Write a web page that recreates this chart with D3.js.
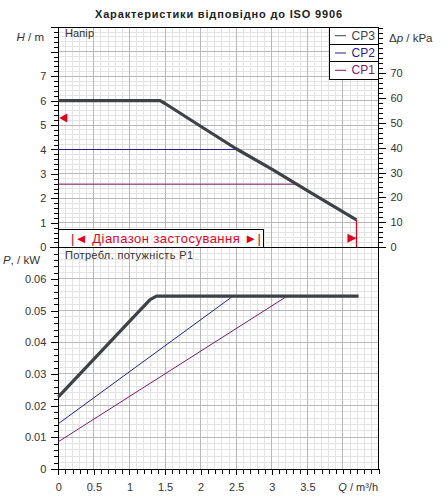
<!DOCTYPE html>
<html><head><meta charset="utf-8">
<script src="https://cdn.jsdelivr.net/npm/d3@7"></script>
<style>
body{margin:0;background:#fff;}
svg{display:block;font-family:"Liberation Sans",Arial,sans-serif;}
</style></head>
<body><svg id="c" width="448" height="500"></svg>
<script>
// ---- data ----
const titleText = "Характеристики відповідно до ISO 9906";
const qTicks = [0, 0.5, 1, 1.5, 2, 2.5, 3, 3.5];
const hTicks = [0, 1, 2, 3, 4, 5, 6, 7];
const kpaTicks = [0, 10, 20, 30, 40, 50, 60, 70];
const pTicks = [0, 0.01, 0.02, 0.03, 0.04, 0.05, 0.06];
const seriesNames = ["CP3", "CP2", "CP1"];
const headQ3 = [0, 1.43, 1.5, 2.0, 2.5, 3.0, 3.5, 4.19];
const headH3 = [6.0, 6.0, 5.88, 4.95, 4.03, 3.2, 2.32, 1.12];
const headQ2 = [0, 2.5];
const headH2 = [4.0, 4.0];
const headQ1 = [0, 3.34];
const headH1 = [2.58, 2.58];
const powQ3 = [0, 0.5, 1.0, 1.29, 1.38, 4.22];
const powP3 = [0.0228, 0.0347, 0.0466, 0.0535, 0.0546, 0.0546];
const powQ2 = [0, 2.45];
const powP2 = [0.0143, 0.0545];
const powQ1 = [0, 3.21];
const powP1 = [0.0086, 0.0545];
const rangeEndQ = 4.19, rangeEndH = 1.12;
const minMarkH = 5.29;

// ---- scales ----
const L = 58.3, R = 378.5, T = 27.2, M = 247.3, B = 469;
const x = d3.scaleLinear([0, 4.5], [L, R]);
const yH = d3.scaleLinear([0, 9], [M, T]);
const yK = d3.scaleLinear([0, 9 * 9.81], [M, T]);
const yP = d3.scaleLinear([0, 0.07], [B, M]);

const cols = {CP3: "#3e4246", CP2: "#2b1b8c", CP1: "#7d1a6e"};
const svg = d3.select("#c");
const font = '"Liberation Sans",Arial,sans-serif';
const txtCol = "#333";

// ---- grids ----
const g = svg.append("g");
function vgrid(step, col, y0, y1) {
  d3.range(0, 4.5001, step).forEach(v => {
    g.append("line").attr("x1", x(v)).attr("x2", x(v)).attr("y1", y0).attr("y2", y1)
      .attr("stroke", col).attr("stroke-width", 1).attr("shape-rendering", "crispEdges");
  });
}
function hgrid(scale, max, step, col) {
  d3.range(0, max + 1e-9, step).forEach(v => {
    g.append("line").attr("x1", L).attr("x2", R).attr("y1", scale(v)).attr("y2", scale(v))
      .attr("stroke", col).attr("stroke-width", 1).attr("shape-rendering", "crispEdges");
  });
}
vgrid(0.1, "#e3e3e3", T, B);
hgrid(yH, 9, 0.2, "#e3e3e3");
hgrid(yP, 0.07, 0.002, "#e3e3e3");
vgrid(0.5, "#b8b8b8", T, B);
hgrid(yH, 9, 1, "#b8b8b8");
hgrid(yP, 0.07, 0.01, "#b8b8b8");

// ---- axes ----
function styleAxis(sel) {
  sel.select(".domain").remove();
  sel.selectAll("line").attr("stroke", "#000").attr("shape-rendering", "crispEdges");
  sel.selectAll("text").attr("fill", txtCol).style("font-size", "11px").style("font-family", font);
}
// upper left
svg.append("g").attr("transform", `translate(${L},0)`)
  .call(d3.axisLeft(yH).tickValues(d3.range(0, 9.001, 0.2)).tickSize(4).tickFormat("")).call(styleAxis);
svg.append("g").attr("transform", `translate(${L},0)`)
  .call(d3.axisLeft(yH).tickValues(d3.range(0, 9.001, 1)).tickSize(7).tickPadding(5)
    .tickFormat(d => hTicks.includes(d) ? d : "")).call(styleAxis);
// upper right
svg.append("g").attr("transform", `translate(${R},0)`)
  .call(d3.axisRight(yK).tickValues(d3.range(0, 88.3, 2)).tickSize(4).tickFormat("")).call(styleAxis);
svg.append("g").attr("transform", `translate(${R},0)`)
  .call(d3.axisRight(yK).tickValues(kpaTicks).tickSize(7).tickPadding(5)).call(styleAxis);
// lower left
svg.append("g").attr("transform", `translate(${L},0)`)
  .call(d3.axisLeft(yP).tickValues(d3.range(0, 0.0701, 0.002)).tickSize(4).tickFormat("")).call(styleAxis);
svg.append("g").attr("transform", `translate(${L},0)`)
  .call(d3.axisLeft(yP).tickValues(pTicks).tickSize(7).tickPadding(5)
    .tickFormat(d => d === 0 ? "0" : d3.format(".2f")(d))).call(styleAxis);
// bottom
svg.append("g").attr("transform", `translate(0,${B})`)
  .call(d3.axisBottom(x).tickValues(d3.range(0, 4.5001, 0.1)).tickSize(5).tickFormat("")).call(styleAxis);
svg.append("g").attr("transform", `translate(0,${B})`)
  .call(d3.axisBottom(x).tickValues(qTicks).tickSize(6).tickPadding(8)
    .tickFormat(d => d3.format("")(d))).call(styleAxis);

// frame
const fr = svg.append("g").attr("stroke", "#000").attr("stroke-width", 1).attr("shape-rendering", "crispEdges").attr("fill", "none");
fr.append("line").attr("x1", L).attr("x2", R).attr("y1", T).attr("y2", T);
fr.append("line").attr("x1", L).attr("x2", L).attr("y1", T).attr("y2", B);
fr.append("line").attr("x1", R).attr("x2", R).attr("y1", T).attr("y2", B);
fr.append("line").attr("x1", L).attr("x2", R).attr("y1", B).attr("y2", B);
fr.append("line").attr("x1", L - 8).attr("x2", R + 7).attr("y1", M).attr("y2", M);

// ---- curves ----
const line = d3.line();
function drawLine(qs, vs, ys, col, w) {
  svg.append("path").attr("d", line(qs.map((q, i) => [x(q), ys(vs[i])])))
    .attr("fill", "none").attr("stroke", col).attr("stroke-width", w)
    .attr("stroke-linejoin", "round").attr("stroke-linecap", "butt");
}
drawLine(headQ2, headH2, yH, cols.CP2, 1);
drawLine(headQ1, headH1, yH, cols.CP1, 1);
drawLine(headQ3, headH3, yH, cols.CP3, 3.2);
drawLine(powQ2, powP2, yP, "#2020a0", 1);
drawLine(powQ1, powP1, yP, cols.CP1, 1);
drawLine(powQ3, powP3, yP, cols.CP3, 3.2);

// ---- range markers ----
const red = "#e8001a";
svg.append("line").attr("x1", x(rangeEndQ)).attr("x2", x(rangeEndQ))
  .attr("y1", yH(rangeEndH)).attr("y2", M).attr("stroke", red).attr("stroke-width", 1.2);
svg.append("path").attr("fill", red)
  .attr("d", `M${x(rangeEndQ)},${M - 9} l-9,-4.5 l0,9 z`);
svg.append("path").attr("fill", red)
  .attr("d", `M${L + 1},${yH(minMarkH)} l8,-4.5 l0,9 z`);

// range box
svg.append("rect").attr("x", L).attr("y", 229.7).attr("width", 205).attr("height", M - 229.7)
  .attr("fill", "#fff").attr("stroke", "#000").attr("stroke-width", 1).attr("shape-rendering", "crispEdges");
svg.append("text").attr("x", 71).attr("y", 242.5).attr("fill", red)
  .style("font-size", "13px").style("font-family", font)
  .attr("textLength", 190).attr("lengthAdjust", "spacing")
  .text("|◄ Діапазон застосування ►|");

// ---- legend ----
const lg = svg.append("g");
const lgX = 329.3, rowH = 17.3;
lg.append("rect").attr("x", lgX).attr("y", T).attr("width", R - lgX).attr("height", rowH * 3)
  .attr("fill", "#fff").attr("stroke", "#000").attr("shape-rendering", "crispEdges");
seriesNames.forEach((n, i) => {
  const yy = T + i * rowH;
  if (i > 0) lg.append("line").attr("x1", lgX).attr("x2", R).attr("y1", yy).attr("y2", yy)
    .attr("stroke", "#000").attr("shape-rendering", "crispEdges");
  lg.append("line").attr("x1", 335).attr("x2", 346).attr("y1", yy + 8.5).attr("y2", yy + 8.5)
    .attr("stroke", cols[n]).attr("stroke-width", 1);
  lg.append("text").attr("x", 351.5).attr("y", yy + 12.5).attr("fill", cols[n])
    .style("font-size", "12px").style("font-family", font).text(n);
});

// ---- texts ----
svg.append("text").attr("x", 95).attr("y", 18.3).attr("fill", "#222")
  .style("font-size", "11px").style("font-weight", "bold").style("font-family", font)
  .attr("textLength", 247).attr("lengthAdjust", "spacing").text(titleText);
svg.append("text").attr("x", 65).attr("y", 37).attr("fill", txtCol)
  .style("font-size", "11px").style("font-family", font)
  .attr("textLength", 29).attr("lengthAdjust", "spacing").text("Напір");
svg.append("text").attr("x", 65).attr("y", 259).attr("fill", txtCol)
  .style("font-size", "11px").style("font-family", font)
  .attr("textLength", 128).attr("lengthAdjust", "spacing").text("Потребл. потужність P1");
const hl = svg.append("text").attr("x", 44).attr("y", 41).attr("text-anchor", "end").attr("fill", txtCol)
  .style("font-size", "11.5px").style("font-family", font);
hl.append("tspan").style("font-style", "italic").text("H");
hl.append("tspan").text(" / m");
const kl = svg.append("text").attr("x", 389).attr("y", 42).attr("fill", txtCol)
  .style("font-size", "11.5px").style("font-family", font);
kl.append("tspan").text("Δ");
kl.append("tspan").style("font-style", "italic").text("p");
kl.append("tspan").text(" / kPa");
const pl = svg.append("text").attr("x", 40).attr("y", 264).attr("text-anchor", "end").attr("fill", txtCol)
  .style("font-size", "11.5px").style("font-family", font);
pl.append("tspan").style("font-style", "italic").text("P");
pl.append("tspan").text(", / kW");
const ql = svg.append("text").attr("x", 378).attr("y", 491).attr("text-anchor", "end").attr("fill", txtCol)
  .style("font-size", "11px").style("font-family", font);
ql.append("tspan").style("font-style", "italic").text("Q");
ql.append("tspan").text(" / m³/h");
</script></body></html>
